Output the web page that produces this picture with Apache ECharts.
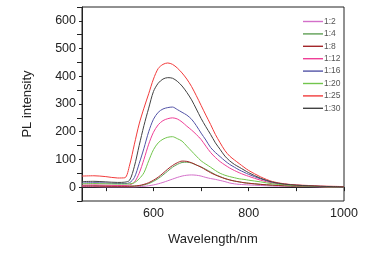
<!DOCTYPE html>
<html>
<head>
<meta charset="utf-8">
<script src="https://cdn.jsdelivr.net/npm/echarts@6/dist/echarts.min.js"></script>
<style>
  html, body { margin: 0; padding: 0; background: #fff; }
  #chart { width: 391px; height: 253px; }
</style>
</head>
<body>
<div id="chart"></div>
<script>
// wavelength grid (nm)
const wavelength = [450, 475, 500, 525, 540, 550, 560, 570, 580, 590, 600, 610, 620, 630, 640, 650, 660, 670, 680, 690,
  700, 710, 720, 730, 740, 750, 760, 770, 780, 790, 800, 825, 850, 875, 900, 925, 950, 975, 1000];

const ratioNames = ["1:2", "1:4", "1:8", "1:12", "1:16", "1:20", "1:25", "1:30"];
const ratioColors = ["#d36fc9", "#5f9f55", "#a3262a", "#ef3f97", "#5253a6", "#72c54c", "#f23b3b", "#424242"];

// tick values
const xTicks = [500, 600, 700, 800, 900, 1000];
const xLabels = [600, 800, 1000];

const r1_2 = [2, 2, 1, 1, 1, 1, 1, 2, 3, 5, 8, 12, 17, 23, 29, 35, 40, 43, 44, 43,
  40, 35, 31, 28, 24, 20, 15, 12, 10, 9, 8, 6, 4, 3, 2, 2, 1, 1, 1];
const r1_4 = [6, 6, 5, 4, 4, 4, 4, 5, 8, 13, 21, 31, 44, 58, 72, 82, 89, 90, 87, 80,
  73, 64, 55, 45, 38, 31, 26, 22, 19, 16, 14, 10, 7, 5, 4, 3, 2, 1, 1];
const r1_8 = [4, 4, 3, 3, 3, 3, 4, 6, 10, 16, 25, 36, 50, 65, 78, 88, 94, 93, 88, 80,
  72, 62, 52, 44, 37, 31, 26, 22, 19, 16, 14, 10, 7, 5, 4, 3, 2, 1, 1];
const r1_12 = [7, 8, 7, 6, 6, 8, 18, 50, 100, 155, 198, 225, 240, 247, 250, 246, 235, 220, 206, 190,
  172, 148, 125, 107, 92, 80, 69, 60, 52, 45, 39, 25, 15, 9, 6, 4, 2, 1, 1];
const r1_16 = [15, 16, 15, 13, 13, 16, 35, 85, 140, 200, 245, 270, 282, 287, 289, 280, 270, 260, 245, 222,
  195, 170, 143, 125, 110, 95, 82, 72, 62, 54, 46, 30, 18, 11, 7, 5, 3, 2, 1];
const r1_20 = [12, 13, 12, 11, 11, 12, 16, 30, 52, 95, 135, 160, 173, 180, 182, 175, 166, 148, 130, 112,
  95, 83, 72, 60, 50, 43, 38, 34, 30, 28, 25, 19, 12, 8, 5, 4, 2, 1, 1];
const r1_25 = [40, 41, 38, 33, 34, 80, 155, 228, 285, 337, 390, 428, 443, 448, 443, 430, 412, 390, 363, 330,
  295, 260, 226, 190, 160, 132, 112, 98, 85, 72, 60, 37, 20, 12, 8, 6, 4, 3, 2];
const r1_30 = [20, 21, 19, 17, 18, 25, 75, 150, 222, 285, 345, 375, 390, 395, 393, 382, 365, 342, 315, 282,
  248, 218, 190, 160, 136, 112, 95, 82, 72, 62, 52, 32, 18, 11, 7, 5, 3, 2, 1];

const seriesValues = [r1_2, r1_4, r1_8, r1_12, r1_16, r1_20, r1_25, r1_30];

const chart = echarts.init(document.getElementById("chart"), null, { renderer: "canvas" });

const textStyle = { fontFamily: "Liberation Sans, Arial, sans-serif", color: "#222" };

const option = {
  animation: false,
  grid: {
    left: 82, right: 47, top: 7, bottom: 52,
    show: true, borderColor: "#222", borderWidth: 1, backgroundColor: "transparent"
  },
  legend: {
    orient: "vertical",
    left: 298, top: 12,
    itemWidth: 20, itemHeight: 8, itemGap: 3.4,
    data: ratioNames.map((n, i) => ({
      name: n,
      icon: "path://M0,0L20,0L20,1.4L0,1.4Z",
      itemStyle: { color: ratioColors[i] }
    })),
    textStyle: { fontFamily: textStyle.fontFamily, fontSize: 8.5, color: "#555", padding: [0, 0, 0, -4] }
  },
  xAxis: {
    type: "value",
    min: 450, max: 1000,
    name: "Wavelength/nm",
    nameLocation: "middle",
    nameGap: 32,
    nameTextStyle: { ...textStyle, fontSize: 13 },
    axisLine: { lineStyle: { color: "#222" } },
    axisTick: { length: 4, customValues: xTicks, lineStyle: { color: "#222" } },
    axisLabel: {
      ...textStyle, fontSize: 12.5, margin: 6, customValues: xLabels,
      formatter: v => String(v)
    },
    splitLine: { show: false }
  },
  yAxis: [
    {
      type: "value",
      min: -50, max: 650, interval: 50,
      name: "PL intensity",
      nameLocation: "middle",
      nameGap: 48,
      nameRotate: 90,
      nameTextStyle: { ...textStyle, fontSize: 13 },
      axisLine: { show: true, lineStyle: { color: "#222" } },
      axisTick: { length: 3, lineStyle: { color: "#222" } },
      axisLabel: {
        ...textStyle, fontSize: 12.5, margin: 6,
        formatter: v => (v % 100 === 0 && v >= 0 && v <= 600 ? String(v) : "")
      },
      splitLine: { show: false }
    },
    {
      type: "value",
      position: "left",
      min: -50, max: 650, interval: 100,
      axisLine: { show: false },
      axisTick: { show: true, length: 5, lineStyle: { color: "#222" } },
      axisLabel: { show: false },
      splitLine: { show: false }
    }
  ],
  series: ratioNames.map((n, i) => ({
    name: n,
    type: "line",
    yAxisIndex: 0,
    symbol: "none",
    smooth: 0.3,
    lineStyle: { width: 1, color: ratioColors[i] },
    itemStyle: { color: ratioColors[i] },
    data: wavelength.map((w, k) => [w, seriesValues[i][k]])
  }))
};

chart.setOption(option);
</script>
</body>
</html>
